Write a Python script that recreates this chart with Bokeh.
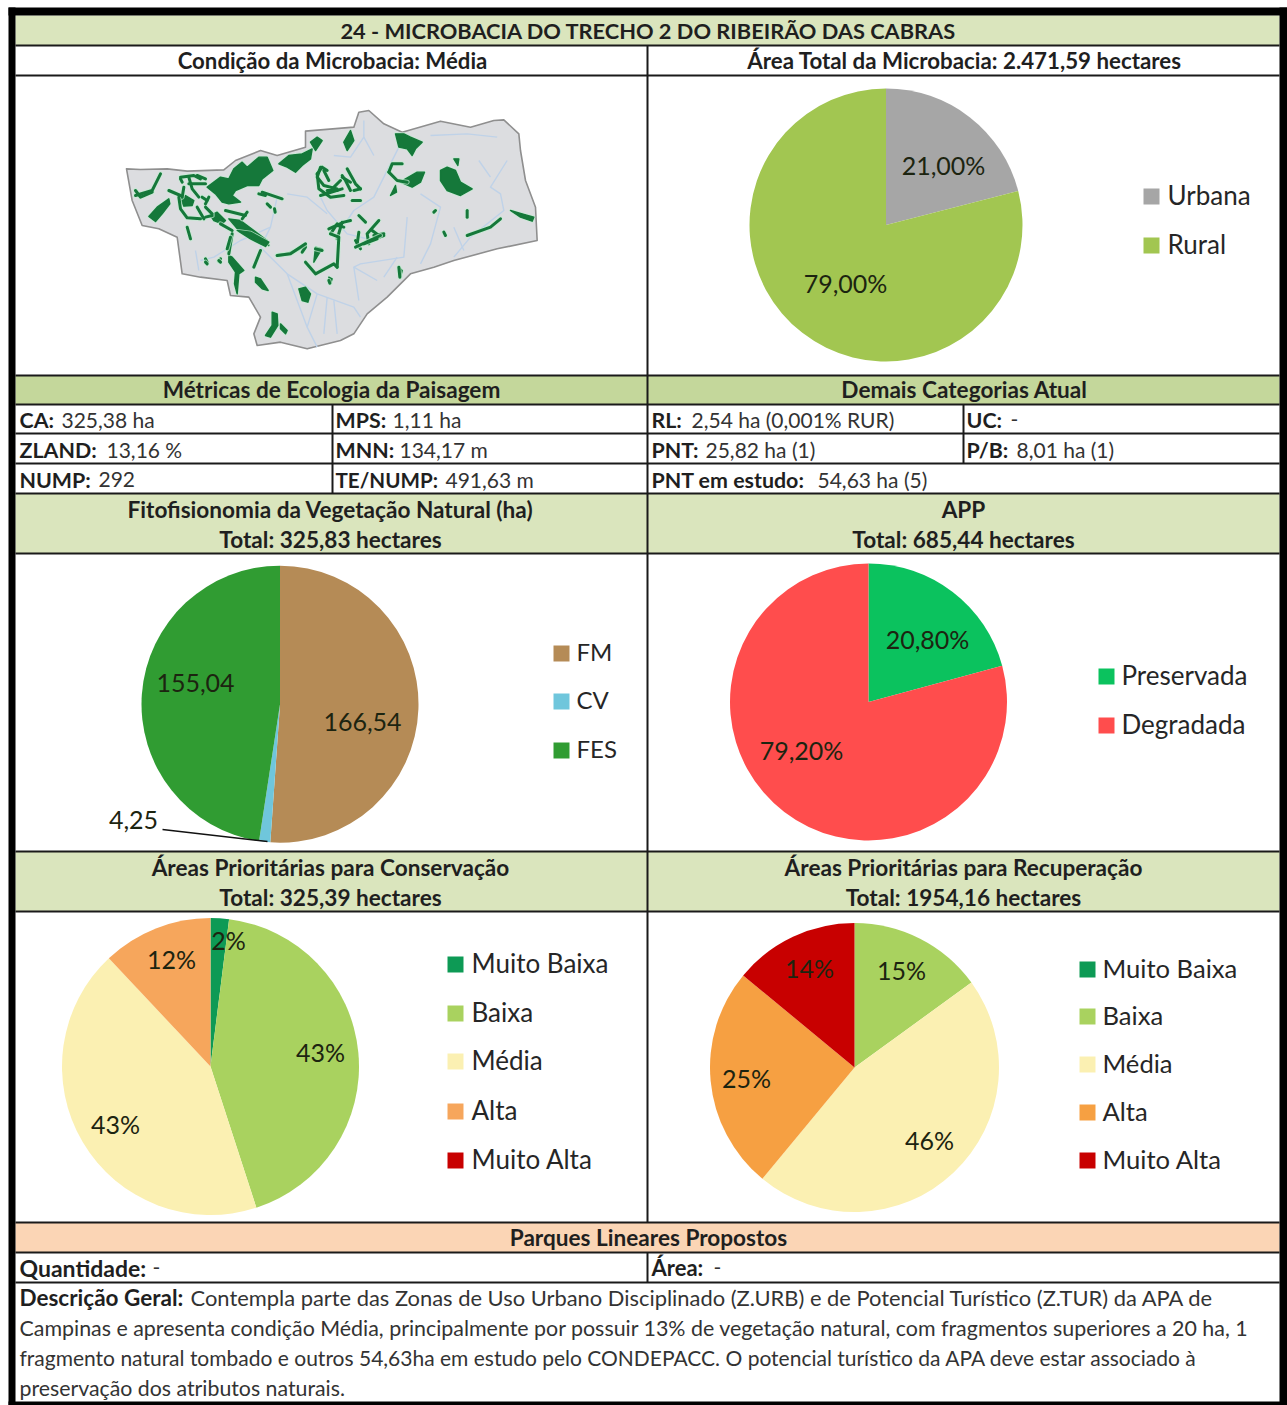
import math
from bokeh.plotting import figure
from bokeh.embed import file_html
from bokeh.resources import INLINE
from bokeh.core.properties import value

# ---- data ----
URBAN_LABELS = ["Urbana", "Rural"]
URBAN_VALUES = [21.0, 79.0]
URBAN_TEXT = ["21,00%", "79,00%"]
URBAN_COLORS = ["#a6a6a6", "#a2c651"]

FITO_LABELS = ["FM", "CV", "FES"]
FITO_VALUES = [166.54, 4.25, 155.04]
FITO_TEXT = ["166,54", "4,25", "155,04"]
FITO_COLORS = ["#b58b56", "#6fc6dc", "#309c32"]

APP_LABELS = ["Preservada", "Degradada"]
APP_VALUES = [20.8, 79.2]
APP_TEXT = ["20,80%", "79,20%"]
APP_COLORS = ["#0bc25e", "#ff4d4d"]

PRIO_LABELS = ["Muito Baixa", "Baixa", "Média", "Alta", "Muito Alta"]
CONS_COLORS = ["#0d9a55", "#a9d25f", "#fbf0b2", "#f6a65c", "#c80000"]
REC_COLORS = ["#0d9a55", "#a9d25f", "#fbf0b2", "#f6a042", "#c80000"]
CONS_VALUES = [2, 43, 43, 12, 0]
CONS_TEXT = ["2%", "43%", "43%", "12%", ""]
REC_VALUES = [0, 15, 46, 25, 14]
REC_TEXT = ["", "15%", "46%", "25%", "14%"]

# map shapes, traced in tripled pixels from an origin
MAP_OUTLINE = [(18,205),(60,207),(140,205),(200,212),(310,208),(345,180),(420,150),(470,165),(555,140),(555,92),
    (700,80),(715,35),(745,30),(790,70),(845,95),(960,62),(1050,80),(1120,60),(1150,58),(1195,100),(1200,150),
    (1215,240),(1245,320),(1250,420),(1130,445),(1000,480),(940,500),(870,520),(800,590),(740,640),(700,700),
    (660,720),(560,745),(480,725),(410,735),(400,700),(420,650),(385,590),(330,585),(320,540),(240,530),(185,520),
    (170,410),(115,385),(65,375),(35,300)]
MAP_RIVERS = [
    [(730,60),(730,110),(690,170),(640,165)], [(730,110),(760,165)],
    [(840,130),(790,230),(760,290),(700,330),(680,360)], [(600,290),(620,330),(680,400),(760,420)],
    [(470,290),(450,380),(420,440),(500,520),(560,680),(590,740)], [(500,280),(560,290),(620,340)],
    [(500,520),(590,580),(700,620),(720,650)], [(590,580),(560,680)], [(640,600),(650,700)],
    [(1160,180),(1110,260),(1140,280),(1150,330),(1050,410),(1000,470)], [(1075,180),(1110,230)],
    [(930,105),(1040,100),(1130,110)], [(900,280),(960,320),(930,430),(900,490)],
    [(860,350),(850,470),(720,490),(700,500),(770,540)], [(1000,380),(1030,450)],
    [(450,380),(360,420),(280,470),(240,480)], [(225,450),(235,510)], [(830,470),(790,530)],
    [(700,500),(715,600)], [(620,590),(610,700)],
]
FOREST_MAIN = [  # origin 120,100
    [(1170,330),(1205,340),(1240,350),(1235,362),(1200,350)],
    [(835,500),(845,510),(840,530)],
    [(625,530),(635,535),(630,550)],
]
FOREST_A = [  # origin 125,140
    [(245,140),(265,125),(285,110),(310,115),(325,85),(350,65),(365,80),(400,50),(425,50),(442,90),(410,115),(400,135),(365,135),(330,150),(320,165),(345,185),(310,190),(290,185),(270,160)],
    [(460,70),(490,45),(530,40),(560,25),(555,55),(530,75),(510,95),(485,80)],
    [(70,228),(95,200),(130,175),(133,190),(110,220),(90,243)],
    [(165,175),(180,165),(205,180),(200,195),(175,197)],
    [(310,235),(345,240),(425,300),(430,315),(405,310),(340,270)],
    [(255,225),(275,215),(300,240),(290,250),(265,240)],
]
CORRIDOR_A = [
    [(105,100),(90,130),(80,150),(30,165)], [(30,150),(45,170),(80,155)],
    [(160,170),(165,205),(185,232),(225,235)], [(190,110),(200,145),(220,170)], [(215,105),(240,115)],
    [(230,170),(245,180)], [(185,260),(195,295)], [(425,190),(435,200)], [(447,205),(449,215)],
    [(320,280),(310,340)], [(455,345),(490,340),(540,315)], [(240,355),(245,365)], [(280,362),(285,355)],
    [(410,155),(470,175)], [(165,115),(170,125)], [(365,215),(350,235)], [(240,200),(260,220)],
    [(165,110),(205,105),(225,115)], [(190,130),(240,130)], [(175,140),(170,170)], [(215,200),(235,235)],
    [(130,150),(165,165)], [(250,170),(240,190)], [(300,210),(360,225)], [(420,165),(400,160)],
    [(240,230),(260,225)], [(285,250),(320,270)], [(540,320),(530,335)],
]
FOREST_B = [  # origin 300,120
    [(285,40),(310,40),(330,50),(365,65),(345,85),(335,105),(320,85),(295,80)],
    [(130,65),(150,30),(160,60),(140,90)],
    [(420,150),(440,140),(465,150),(480,185),(515,205),(480,225),(440,210),(420,180)],
    [(460,115),(475,115),(472,135)],
    [(315,175),(350,155),(372,155),(360,185),(335,200),(300,185)],
    [(270,225),(285,195),(288,215)],
    [(30,65),(50,50),(65,60),(45,90)],
]
CORRIDOR_B = [
    [(265,155),(275,130),(305,130)], [(265,155),(290,180),(320,185)], [(50,160),(65,140),(80,150)],
    [(50,160),(55,205),(90,230),(130,225)], [(60,225),(125,205)], [(80,210),(110,210)], [(125,170),(150,185)],
    [(140,145),(165,190),(180,205)], [(160,210),(180,205)], [(155,240),(180,240)], [(175,285),(195,305)],
    [(85,325),(130,305),(150,300)], [(90,340),(110,310)], [(110,355),(125,305)], [(235,300),(200,340),(205,370)],
    [(195,365),(250,345)], [(165,360),(180,385)], [(500,270),(500,290)], [(400,275),(405,270)],
    [(430,335),(435,345)], [(500,345),(570,320),(600,295)], [(45,385),(65,390)],
    [(60,140),(50,170),(70,195),(110,205)], [(70,150),(85,180)], [(95,205),(120,180)],
    [(125,165),(135,180),(150,210)], [(110,315),(130,320)], [(220,345),(250,340)],
    [(175,335),(170,370)], [(215,330),(235,345)],
]
FOREST_C = [  # origin 200,230
    [(110,0),(150,5),(205,35),(195,48),(150,25)],
    [(295,175),(315,170),(330,190),(322,215),(305,210)],
    [(345,50),(365,55),(355,70),(340,95)],
    [(195,315),(215,285),(215,245),(230,250),(232,285),(210,320)],
    [(240,280),(260,300),(255,310),(240,295)],
    [(165,140),(180,145),(203,180),(185,175),(165,155)],
    [(85,75),(95,80),(130,120),(115,130),(110,190),(102,160),(105,125),(85,95)],
]
CORRIDOR_C = [
    [(230,75),(270,70),(315,40)], [(180,60),(160,110)], [(315,95),(345,130),(400,100),(410,110)],
    [(90,20),(80,55)], [(410,110),(415,20),(390,10)], [(465,50),(540,15)], [(490,40),(530,25)],
    [(385,150),(388,158)], [(595,110),(598,140)], [(15,95),(20,100)], [(55,90),(60,95)],
]

# ---- canvas: data units equal page pixels ----
p = figure(width=1287, height=1405, x_range=(0, 1287), y_range=(1405, 0), x_axis_type=None, y_axis_type=None,
           toolbar_location=None, output_backend="svg", min_border=0, outline_line_color=None,
           background_fill_color="white", border_fill_color="white")
p.grid.visible = False

FONT = "Lato"
INK = "#1f1f1f"
SOFT = "#333333"
LIGHT, MID, PEACH = "#dae5bd", "#c4d79b", "#fbd5b5"
L, R, MIDX = 15, 1279, 647
GREEN, MINT = "#15783a", "#c3ecd2"

def txt(x, y, s, size=22, bold=False, align="left", color=INK):
    p.text([x], [y], text=[s], text_font=value(FONT), text_font_size=f"{size}px",
           text_font_style="bold" if bold else "normal", text_align=align,
           text_baseline="middle", text_color=color)

def band(top, bottom, color):
    p.quad(left=[L], right=[R], top=[top], bottom=[bottom], fill_color=color, line_color=None)

def pie(cx, cy, r, values, colors):
    total = sum(values)
    cum = 0.0
    for v, c in zip(values, colors):
        if v > 0:
            a0 = math.pi / 2 - 2 * math.pi * cum / total
            cum += v
            a1 = math.pi / 2 - 2 * math.pi * cum / total
            p.wedge(x=[cx], y=[cy], radius=r, start_angle=a0, end_angle=a1, direction="clock",
                    fill_color=c, line_color=None)

def legend(x, ys, labels, colors, size=26, gap=24):
    for y, lab, c in zip(ys, labels, colors):
        p.quad(left=[x], right=[x + 16], top=[y - 8], bottom=[y + 8], fill_color=c, line_color=None)
        txt(x + gap, y - 2, lab, size=size, color="#262626")

def shift(shapes, ox, oy):
    return [[ox + a / 3 for a, _ in s] for s in shapes], [[oy + b / 3 for _, b in s] for s in shapes]

# bands
band(15, 45, LIGHT)
band(375, 404, MID)
band(493, 553, LIGHT)
band(851, 911, LIGHT)
band(1222, 1252, PEACH)

# map
xs, ys = shift([MAP_OUTLINE], 120, 100)
p.patch(xs[0], ys[0], fill_color="#dcdde0", line_color="#8f8f8f", line_width=1.6, line_join="round")
xs, ys = shift(MAP_RIVERS, 120, 100)
p.multi_line(xs, ys, line_color="#bfd2e8", line_width=1.4, line_join="round")
for forests, ox, oy in [(FOREST_MAIN, 120, 100), (FOREST_A, 125, 140), (FOREST_B, 300, 120), (FOREST_C, 200, 230)]:
    xs, ys = shift(forests, ox, oy)
    p.patches(xs, ys, fill_color=GREEN, line_color=MINT, line_width=3, line_alpha=0.8, line_join="round")
    p.patches(xs, ys, fill_color=GREEN, line_color=GREEN, line_width=1.4, line_join="round")
for corridors, ox, oy in [(CORRIDOR_A, 125, 140), (CORRIDOR_B, 300, 120), (CORRIDOR_C, 200, 230)]:
    xs, ys = shift(corridors, ox, oy)
    p.multi_line(xs, ys, line_color=MINT, line_width=5, line_alpha=0.7, line_join="round", line_cap="round")
    p.multi_line(xs, ys, line_color=GREEN, line_width=3, line_join="round", line_cap="round")

# pies
pie(885.5, 224.5, 136.5, URBAN_VALUES, URBAN_COLORS)
pie(279.5, 703.7, 138.5, FITO_VALUES, FITO_COLORS)
pie(868, 701.5, 138.5, APP_VALUES, APP_COLORS)
pie(210, 1066, 148.5, CONS_VALUES, CONS_COLORS)
pie(854, 1067, 144.5, REC_VALUES, REC_COLORS)
p.line([162, 267], [829, 841], line_color="#111111", line_width=1.5)

# grid lines
H_FULL = [45, 75, 375, 404, 433, 463, 493, 553, 851, 911, 1222, 1252, 1282]
p.segment(x0=[L] * len(H_FULL), x1=[R] * len(H_FULL), y0=H_FULL, y1=H_FULL, line_color="#1a1a1a", line_width=2)
VS = [(MIDX, 45, 1222), (MIDX, 1252, 1282), (332, 404, 493), (963, 404, 463)]
p.segment(x0=[v[0] for v in VS], x1=[v[0] for v in VS], y0=[v[1] for v in VS], y1=[v[2] for v in VS],
          line_color="#1a1a1a", line_width=2)

# outer frame
for l, r, t, b in [(8, 15, 7, 1405), (1279, 1287, 7, 1405), (8, 1287, 7, 15), (8, 1287, 1401, 1405)]:
    p.quad(left=[l], right=[r], top=[t], bottom=[b], fill_color="#000000", line_color=None)

# headings
HS = 22.6
HEADINGS = [
    (648, 31, "24 - MICROBACIA DO TRECHO 2 DO RIBEIRÃO DAS CABRAS", 21.8),
    (332, 61, "Condição da Microbacia: Média", 22.2),
    (964, 61, "Área Total da Microbacia: 2.471,59 hectares", 22.3),
    (331, 390, "Métricas de Ecologia da Paisagem", HS),
    (964, 390, "Demais Categorias Atual", HS),
    (330, 510, "Fitofisionomia da Vegetação Natural (ha)", HS),
    (330, 540, "Total: 325,83 hectares", HS),
    (963, 510, "APP", HS),
    (963, 540, "Total: 685,44 hectares", HS),
    (330, 868, "Áreas Prioritárias para Conservação", HS),
    (330, 898, "Total: 325,39 hectares", HS),
    (963, 868, "Áreas Prioritárias para Recuperação", HS),
    (963, 898, "Total: 1954,16 hectares", HS),
    (648, 1238, "Parques Lineares Propostos", HS),
]
for x, y, s, size in HEADINGS:
    txt(x, y - 1, s, size, True, "center")

# metric cells: (x, y, bold part, regular part, x of regular part, bold size)
CELLS = [
    (19, 420, "CA:", "325,38 ha", 61, 21.4), (335, 420, "MPS:", "1,11 ha", 392, 21.4),
    (19, 450, "ZLAND:", "13,16 %", 106, 21.4), (335, 450, "MNN:", "134,17 m", 399, 21.4),
    (19, 480, "NUMP:", "292", 98, 21.4), (335, 480, "TE/NUMP:", "491,63 m", 445, 20.6),
    (651, 420, "RL:", "2,54 ha (0,001% RUR)", 691, 21.4), (966, 420, "UC:", "-", 1010, 21.4),
    (651, 450, "PNT:", "25,82 ha (1)", 705, 21.4), (966, 450, "P/B:", "8,01 ha (1)", 1016, 21.4),
    (651, 480, "PNT em estudo:", "54,63 ha (5)", 817, 21.4),
    (19, 1268, "Quantidade:", "-", 152, 23), (651, 1268, "Área:", "-", 713, 22),
]
for x, y, b, r, xr, bs in CELLS:
    txt(x, y - 1, b, bs, True)
    txt(xr, y - 1, r, 21, False, color=SOFT)

# description
txt(19, 1297, "Descrição Geral:", 22.5, True)
DESC = [
    (190, 1298, "Contempla  parte das Zonas de Uso Urbano Disciplinado (Z.URB) e de Potencial Turístico (Z.TUR) da APA de", 21.9),
    (19, 1328, "Campinas e apresenta condição Média, principalmente por possuir 13% de vegetação natural, com fragmentos superiores a 20 ha, 1", 21.4),
    (19, 1358, "fragmento natural tombado e outros 54,63ha em estudo pelo CONDEPACC. O potencial turístico da APA deve estar associado à", 21),
    (19, 1388, "preservação dos atributos naturais.", 21.3),
]
for x, y, s, size in DESC:
    txt(x, y - 1, s, size, False, color=SOFT)

# slice labels
LS = 25
LABEL_INK = "#1c2410"
for (x, y), s in zip([(943, 164), (845, 282)], URBAN_TEXT):
    txt(x, y, s, LS, align="center", color=LABEL_INK)
for (x, y), s in zip([(362, 721), (133, 819), (195, 682)], FITO_TEXT):
    txt(x, y, s, LS, align="center", color=LABEL_INK)
for (x, y), s in zip([(927, 638), (801, 749)], APP_TEXT):
    txt(x, y, s, LS, align="center", color=LABEL_INK)
for (x, y), s in zip([(228, 939), (320, 1051), (115, 1123), (171, 958), (0, 0)], CONS_TEXT):
    if s:
        txt(x, y, s, LS, align="center", color=LABEL_INK)
for (x, y), s in zip([(0, 0), (901, 969), (929, 1139), (746, 1077), (809, 967)], REC_TEXT):
    if s:
        txt(x, y, s, LS, align="center", color=LABEL_INK)

# legends
legend(1143, [196, 245], URBAN_LABELS, URBAN_COLORS)
legend(553, [653, 701, 750], FITO_LABELS, FITO_COLORS, size=24, gap=23)
legend(1098, [676, 725], APP_LABELS, APP_COLORS, gap=23)
legend(447, [964, 1013, 1061, 1111, 1160], PRIO_LABELS, CONS_COLORS)
legend(1079, [969, 1016, 1064, 1112, 1160], PRIO_LABELS, REC_COLORS, size=25.6, gap=23)

open("out.html", "w").write(file_html(p, INLINE))
